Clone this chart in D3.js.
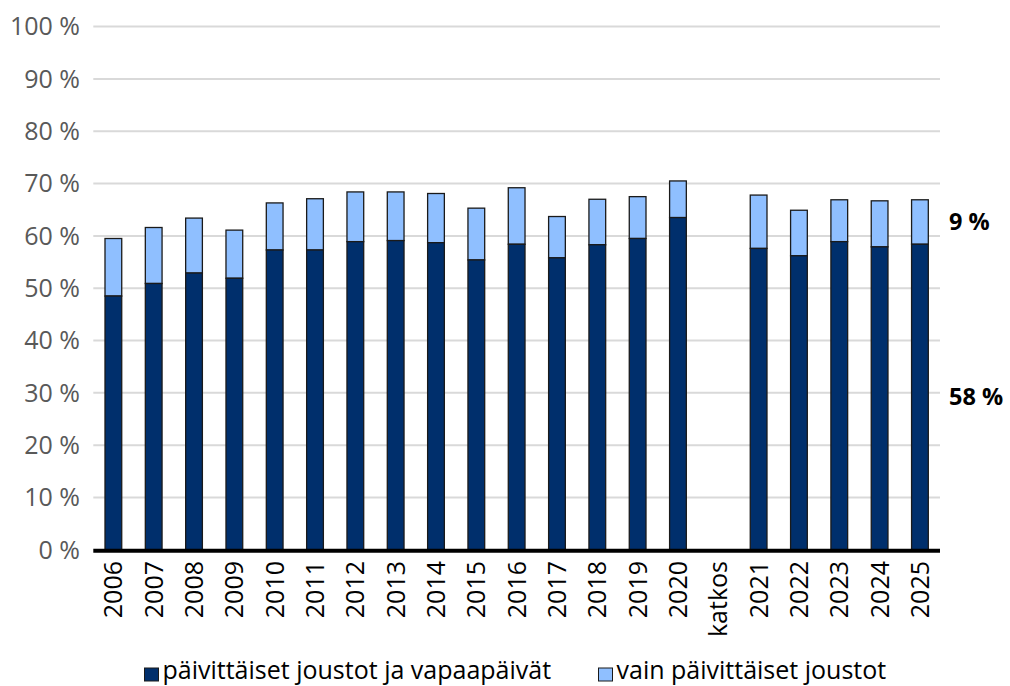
<!DOCTYPE html>
<html>
<head>
<meta charset="utf-8">
<script src="https://cdn.jsdelivr.net/npm/d3@7"></script>
<style>
  body { margin: 0; background: #fff; }
  text { font-family: "Open Sans", sans-serif; }
</style>
</head>
<body>
<script>
var width = 1010,
    height = 686;

// data
var years = ['2006','2007','2008','2009','2010','2011','2012','2013','2014','2015',
             '2016','2017','2018','2019','2020','katkos','2021','2022','2023','2024','2025'];
// päivittäiset joustot ja vapaapäivät
var both = [48.5,50.9,52.9,51.9,57.3,57.3,58.9,59.1,58.7,55.4,
            58.4,55.8,58.3,59.5,63.5,null,57.6,56.2,58.9,57.9,58.4];
// vain päivittäiset joustot (total height of bar)
var total = [59.5,61.6,63.4,61.1,66.3,67.1,68.4,68.4,68.1,65.3,
             69.2,63.7,67.0,67.5,70.5,null,67.8,64.9,66.9,66.7,66.9];
var yTicks = [0,10,20,30,40,50,60,70,80,90,100];
var seriesNames = ['päivittäiset joustot ja vapaapäivät', 'vain päivittäiset joustot'];
var seriesColors = ['#002f6c', '#8fbfff'];
var endLabels = ['9 %', '58 %'];

var svg = d3.select('body')
  .append('svg')
  .attr('width', width)
  .attr('height', height);

var x = d3.scaleBand()
  .domain(years)
  .range([93.3, 940])
  .paddingInner(0.585)
  .paddingOuter(0.29);

var y = d3.scaleLinear()
  .domain([0, 100])
  .range([549.8, 26.6]);

// gridlines
svg.append('g')
  .selectAll('line')
  .data(yTicks.slice(1))
  .enter()
  .append('line')
  .attr('x1', 93.3)
  .attr('x2', 940)
  .attr('y1', function(d) { return y(d); })
  .attr('y2', function(d) { return y(d); })
  .attr('stroke', '#d9d9d9')
  .attr('stroke-width', 2);

// y labels
svg.append('g')
  .selectAll('text')
  .data(yTicks)
  .enter()
  .append('text')
  .attr('x', 80)
  .attr('y', function(d) { return y(d); })
  .attr('dy', '0.35em')
  .attr('text-anchor', 'end')
  .attr('fill', '#595959')
  .style('font-size', '25px')
  .text(function(d) { return d + ' %'; });

var rows = years.map(function(d, i) {
  return { year: d, both: both[i], total: total[i] };
}).filter(function(d) { return d.total !== null; });

var bars = svg.append('g');

// light segment (top)
bars.selectAll('rect.light')
  .data(rows)
  .enter()
  .append('rect')
  .attr('class', 'light')
  .attr('x', function(d) { return x(d.year); })
  .attr('width', x.bandwidth())
  .attr('y', function(d) { return y(d.total); })
  .attr('height', function(d) { return y(d.both) - y(d.total); })
  .attr('fill', seriesColors[1])
  .attr('stroke', '#1a1a1a')
  .attr('stroke-width', 1.3);

// dark segment (bottom)
bars.selectAll('rect.dark')
  .data(rows)
  .enter()
  .append('rect')
  .attr('class', 'dark')
  .attr('x', function(d) { return x(d.year); })
  .attr('width', x.bandwidth())
  .attr('y', function(d) { return y(d.both); })
  .attr('height', function(d) { return y(0) - y(d.both); })
  .attr('fill', seriesColors[0])
  .attr('stroke', '#1a1a1a')
  .attr('stroke-width', 1.3);

// x axis line
svg.append('line')
  .attr('x1', 93.3)
  .attr('x2', 940)
  .attr('y1', y(0) + 1)
  .attr('y2', y(0) + 1)
  .attr('stroke', '#000')
  .attr('stroke-width', 4);

// x labels, rotated
svg.append('g')
  .selectAll('text')
  .data(years)
  .enter()
  .append('text')
  .attr('transform', function(d) {
    return 'translate(' + (x(d) + x.bandwidth() / 2) + ',561) rotate(-90)';
  })
  .attr('dy', '0.36em')
  .attr('text-anchor', 'end')
  .attr('fill', '#000')
  .style('font-size', '25px')
  .text(function(d) { return d; });

// end labels beside the last bar
var last = rows[rows.length - 1];
svg.append('text')
  .attr('x', 949)
  .attr('y', y((last.both + last.total) / 2))
  .attr('dy', '0.35em')
  .style('font-size', '23.5px')
  .style('font-weight', 'bold')
  .text(endLabels[0]);
svg.append('text')
  .attr('x', 949)
  .attr('y', y(last.both / 2))
  .attr('dy', '0.35em')
  .style('font-size', '23.5px')
  .style('font-weight', 'bold')
  .text(endLabels[1]);

// legend
var legendX = [144.5, 598.5];
var legend = svg.append('g')
  .selectAll('g')
  .data(seriesNames)
  .enter()
  .append('g')
  .attr('transform', function(d, i) { return 'translate(' + legendX[i] + ',0)'; });

legend.append('rect')
  .attr('x', 0)
  .attr('y', 668)
  .attr('width', 14)
  .attr('height', 13)
  .attr('fill', function(d, i) { return seriesColors[i]; })
  .attr('stroke', '#1a1a1a')
  .attr('stroke-width', 1);

legend.append('text')
  .attr('x', 18)
  .attr('y', 679)
  .style('font-size', '25px')
  .attr('fill', '#000')
  .text(function(d) { return d; });
</script>
</body>
</html>
